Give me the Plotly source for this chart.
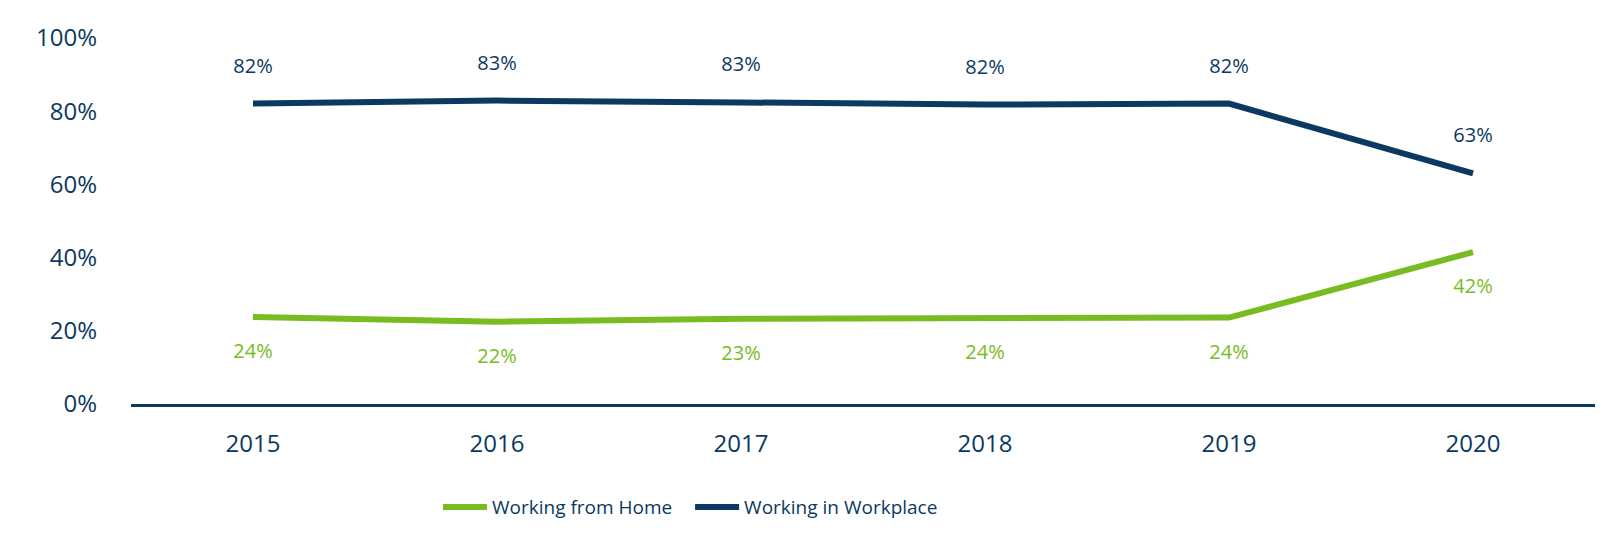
import plotly.graph_objects as go

years = ["2015", "2016", "2017", "2018", "2019", "2020"]
home = [0.238, 0.225, 0.233, 0.236, 0.236, 0.415]
workplace = [0.821, 0.829, 0.824, 0.818, 0.821, 0.630]
home_labels = ["24%", "22%", "23%", "24%", "24%", "42%"]
workplace_labels = ["82%", "83%", "83%", "82%", "82%", "63%"]
y_ticks = [0, 0.2, 0.4, 0.6, 0.8, 1.0]

GREEN = "#78BC21"
NAVY = "#0B3961"
FONT = "Open Sans"

fig = go.Figure()
fig.add_trace(go.Scatter(x=years, y=home, name="Working from Home", mode="lines",
                         line=dict(color=GREEN, width=6), hoverinfo="skip",
                         legend="legend"))
fig.add_trace(go.Scatter(x=years, y=workplace, name="Working in Workplace", mode="lines",
                         line=dict(color=NAVY, width=6), hoverinfo="skip",
                         legend="legend2"))

# data labels (hidden markers set the text offset)
fig.add_trace(go.Scatter(x=years, y=home, text=home_labels, mode="markers+text",
                         textposition="bottom center",
                         textfont=dict(family=FONT, size=20, color=GREEN),
                         marker=dict(size=40, color="rgba(0,0,0,0)"),
                         showlegend=False, hoverinfo="skip", cliponaxis=False))
fig.add_trace(go.Scatter(x=years, y=workplace, text=workplace_labels, mode="markers+text",
                         textposition="top center",
                         textfont=dict(family=FONT, size=20, color=NAVY),
                         marker=dict(size=40, color="rgba(0,0,0,0)"),
                         showlegend=False, hoverinfo="skip", cliponaxis=False))

legend_common = dict(orientation="h", y=-0.282, yanchor="middle", xanchor="left",
                     font=dict(family=FONT, size=19, color=NAVY), itemwidth=44,
                     bgcolor="rgba(0,0,0,0)")

fig.update_layout(
    width=1618, height=536,
    margin=dict(l=123, r=31, t=27, b=140),
    paper_bgcolor="white", plot_bgcolor="white",
    font=dict(family=FONT, color=NAVY),
    showlegend=True,
    legend=dict(x=0.2097, **legend_common),
    legend2=dict(x=0.3819, **legend_common),
    xaxis=dict(type="category", showgrid=False, zeroline=False, showline=True,
               linecolor=NAVY, linewidth=3, ticks="",
               tickfont=dict(family=FONT, size=24, color=NAVY),
               ticklabelstandoff=16, range=[-0.5, 5.5]),
    yaxis=dict(range=[0, 1.0], tickvals=y_ticks, tickformat=".0%", showgrid=False,
               zeroline=False, showline=False, ticks="",
               tickfont=dict(family=FONT, size=24, color=NAVY), ticklabelstandoff=33),
)

fig.write_html("out.html")
